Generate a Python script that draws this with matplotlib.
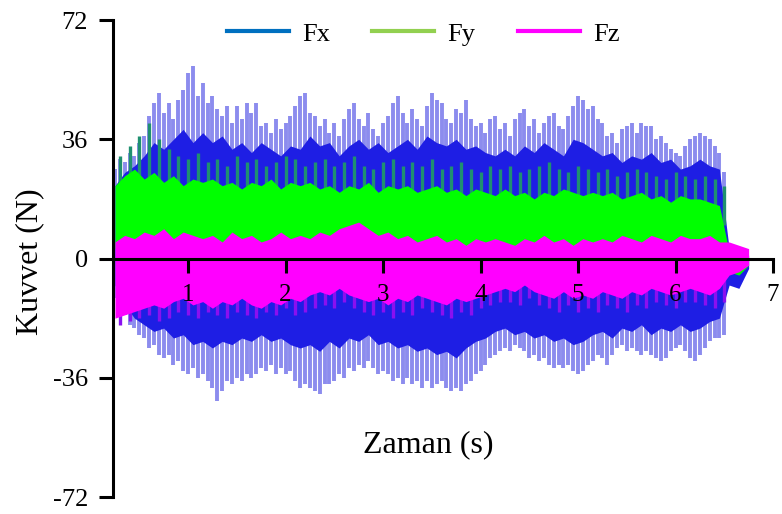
import numpy as np
import matplotlib
matplotlib.use("Agg")
import matplotlib.pyplot as plt
from matplotlib.lines import Line2D

plt.rcParams["font.family"] = ["Liberation Serif", "DejaVu Serif"]
plt.rcParams["axes.unicode_minus"] = False

# ---- data ----
# Fx peaks / troughs, one pair every 0.05 s from 0.25 s to 6.50 s
t_fx = np.round(np.arange(0.25, 6.501, 0.05), 2)
fx_hi = [27, 30, 29, 32, 31, 35, 37, 43, 47, 50,
         44, 47, 42, 48, 51, 56, 58, 49, 53, 47,
         49, 45, 43, 46, 41, 46, 42, 47, 44, 47,
         40, 41, 38, 42, 39, 41, 43, 46, 49, 50,
         44, 43, 40, 42, 38, 41, 37, 42, 45, 47,
         42, 40, 44, 39, 37, 41, 43, 47, 49, 44,
         41, 45, 42, 40, 46, 50, 48, 47, 42, 41,
         45, 44, 48, 42, 40, 41, 38, 42, 43, 39,
         41, 37, 42, 44, 45, 40, 42, 38, 41, 43,
         44, 40, 39, 43, 46, 49, 48, 45, 46, 42,
         41, 37, 38, 35, 39, 40, 41, 38, 41, 40,
         40, 36, 37, 35, 33, 32, 31, 34, 36, 37,
         38, 37, 36, 34, 32, 26]
fx_lo = [-12, -15, -17, -20, -21, -23, -24, -27, -26, -29,
         -30, -29, -32, -31, -34, -35, -33, -36, -35, -37,
         -39, -43, -40, -37, -38, -36, -37, -35, -36, -35,
         -33, -34, -32, -35, -33, -35, -34, -37, -39, -38,
         -39, -40, -41, -38, -38, -37, -35, -36, -33, -34,
         -32, -33, -31, -33, -35, -34, -35, -37, -36, -38,
         -36, -38, -37, -39, -37, -39, -38, -37, -39, -40,
         -39, -40, -38, -37, -35, -34, -32, -30, -29, -28,
         -27, -28, -26, -27, -28, -30, -29, -31, -30, -32,
         -33, -32, -33, -32, -34, -35, -34, -32, -31, -29,
         -30, -32, -29, -27, -26, -28, -27, -28, -29, -28,
         -29, -30, -31, -30, -28, -27, -26, -28, -30, -31,
         -29, -27, -25, -24, -24, -23]

# dense bands of each signal, every 0.1 s from 0.25 s to 6.75 s
t_core = np.round(np.arange(0.25, 6.751, 0.1), 2)
fx_core_hi = [22, 26, 28, 31, 35, 33, 36, 39, 35, 38,
              35, 37, 33, 35, 32, 35, 33, 31, 34, 33,
              37, 34, 35, 31, 34, 36, 33, 35, 32, 34,
              36, 33, 37, 35, 34, 36, 33, 34, 32, 31,
              33, 31, 34, 32, 35, 33, 31, 36, 35, 33,
              31, 32, 29, 31, 30, 32, 29, 30, 27, 28,
              30, 28, 27, 3, 2, 1]
fx_core_lo = [-8, -14, -18, -20, -22, -21, -24, -23, -26, -25,
              -27, -25, -26, -24, -25, -23, -25, -24, -26, -27,
              -26, -28, -25, -27, -24, -25, -23, -26, -25, -27,
              -26, -28, -27, -29, -28, -30, -27, -25, -24, -22,
              -21, -23, -22, -24, -23, -25, -24, -26, -25, -23,
              -22, -24, -21, -22, -20, -23, -21, -22, -20, -22,
              -21, -19, -18, -8, -9, -3]
fy_hi = [22, 25, 27, 24, 26, 23, 25, 22, 24, 23,
         24, 22, 23, 21, 23, 22, 24, 21, 23, 22,
         23, 21, 22, 20, 22, 21, 23, 20, 22, 21,
         22, 20, 21, 22, 20, 21, 19, 21, 20, 19,
         21, 19, 20, 18, 20, 19, 21, 20, 19, 20,
         19, 20, 18, 19, 20, 18, 19, 17, 19, 18,
         18, 17, 16, 2, 1, 0]
fy_lo = [3] * 63 + [-4, -5, -2]
fz_hi = [5, 7, 6, 8, 7, 9, 6, 8, 7, 6,
         7, 5, 8, 6, 7, 5, 6, 8, 6, 7,
         6, 8, 7, 9, 10, 11, 9, 7, 8, 6,
         7, 5, 6, 7, 5, 6, 4, 6, 5, 6,
         5, 4, 6, 5, 7, 5, 6, 4, 6, 5,
         6, 5, 7, 6, 5, 7, 6, 5, 7, 6,
         6, 7, 5, 5, 4, 3]
fz_lo = [-18, -17, -16, -15, -14, -15, -13, -12, -14, -13,
         -15, -13, -14, -12, -14, -15, -13, -14, -12, -13,
         -11, -10, -11, -9, -11, -12, -13, -12, -14, -12,
         -13, -11, -12, -13, -14, -12, -13, -12, -11, -10,
         -9, -10, -8, -10, -11, -12, -10, -12, -11, -12,
         -10, -11, -12, -10, -11, -9, -10, -11, -10, -9,
         -10, -11, -9, -5, -4, -2]

# single spikes poking out of the Fy (up) and Fz (down) bands, every 0.1 s
t_spk = np.round(np.arange(0.3, 6.501, 0.1), 2)
fy_spk = [31, 34, 37, 41, 36, 33, 31, 30, 32, 29,
          30, 28, 31, 29, 30, 28, 29, 31, 30, 28,
          29, 30, 28, 29, 31, 28, 27, 29, 30, 28,
          29, 28, 30, 27, 28, 29, 27, 26, 28, 27,
          28, 26, 27, 28, 29, 27, 26, 28, 27, 26,
          27, 25, 26, 27, 26, 25, 24, 26, 25, 24,
          25, 24, 22]
fz_spk = [-20, -19, -18, -17, -19, -18, -16, -17, -18, -16,
          -17, -18, -16, -17, -18, -16, -17, -15, -17, -16,
          -15, -14, -15, -13, -15, -16, -17, -16, -18, -16,
          -17, -15, -16, -17, -18, -16, -17, -15, -14, -13,
          -13, -14, -12, -14, -15, -16, -14, -16, -15, -16,
          -14, -15, -16, -14, -15, -13, -14, -15, -13, -13,
          -14, -15, -13]

series = ["Fx", "Fy", "Fz"]
legend_colors = ["#0070C0", "#92D050", "#FF00FF"]
xticks = [1, 2, 3, 4, 5, 6, 7]
yticks = [-72, -36, 0, 36, 72]

fig = plt.figure(figsize=(7.82, 5.14), dpi=100)
ax = fig.add_axes([0.1445, 0.033, 0.844, 0.928])
ax.set_axisbelow(False)

# Fx: light spikes, then the dense blue core
ax.vlines(t_fx, fx_lo, fx_hi, color="#8C8CEE", lw=2.8, zorder=1.0)
ax.fill_between(t_core, fx_core_lo, fx_core_hi, color="#1E1EE4", lw=0, zorder=1.1)
# Fy: teal stripes reaching into the blue, then the solid green band
ax.vlines(t_spk, 10, fy_spk, color="#1F9070", lw=2.4, zorder=1.2)
ax.fill_between(t_core, fy_lo, fy_hi, color="#00FF00", lw=0, zorder=1.3)
# Fz: purple stripes below, then the magenta band
ax.vlines(t_spk, -2, fz_spk, color="#8A10F0", lw=2.4, zorder=1.35)
ax.fill_between(t_core, fz_lo, fz_hi, color="#FF00FF", lw=0, zorder=1.4)

ax.set_xlim(0.23, 7.0)
ax.set_ylim(-72, 72)
ax.spines["top"].set_visible(False)
ax.spines["right"].set_visible(False)
ax.spines["bottom"].set_position(("data", 0))
for s in ("left", "bottom"):
    ax.spines[s].set_linewidth(2.2)
    ax.spines[s].set_zorder(5)

ax.set_xticks(xticks)
ax.set_xticklabels([str(v) for v in xticks])
ax.set_yticks(yticks)
ax.set_yticklabels([str(v) for v in yticks])
ax.tick_params(axis="both", direction="out", length=10, width=2.2)
ax.tick_params(axis="x", labelsize=18, pad=8)
ax.tick_params(axis="y", labelsize=19, pad=8)

ax.text(0.477, 0.109, "Zaman (s)", transform=ax.transAxes, ha="center", va="center", fontsize=23)
ax.text(-0.126, 0.493, "Kuvvet (N)", transform=ax.transAxes, ha="center", va="center",
        rotation=90, fontsize=23)

handles = [Line2D([0], [0], color=c, lw=3) for c in legend_colors]
fig.legend(handles, series, loc="center", bbox_to_anchor=(0.541, 0.934), ncol=3,
           frameon=False, fontsize=19, handlelength=2.35, handletextpad=0.5, columnspacing=1.6)

fig.savefig("out.png", dpi=100)
